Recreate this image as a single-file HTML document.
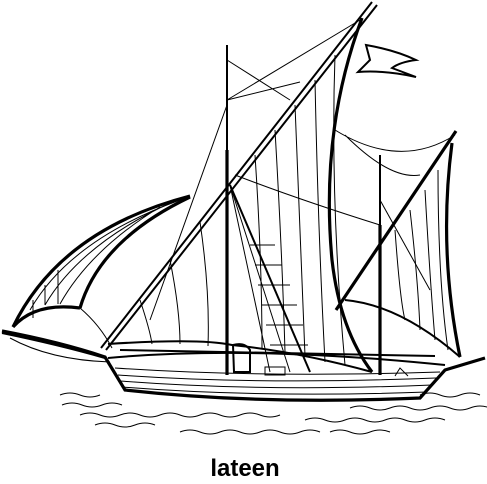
<!DOCTYPE html>
<html><head><meta charset="utf-8">
<style>
html,body{margin:0;padding:0;background:#fff;width:487px;height:484px;overflow:hidden}
svg{display:block}
.t{fill:none;stroke:#000;stroke-width:1}
.m{fill:none;stroke:#000;stroke-width:2}
.k{fill:none;stroke:#000;stroke-width:3.2}
</style></head>
<body>
<svg width="487" height="484" viewBox="0 0 487 484">
<g>
 <path class="k" d="M362,18 Q320,130 332,260 Q340,330 372,372"/>
 <path class="t" d="M140,300 Q150,330 152,344 M170,260 Q180,310 180,344 M200,222 Q210,290 208,346 M255,155 Q262,260 262,349 M275,130 Q282,250 285,352 M295,105 Q300,240 305,356 M315,80 Q318,230 325,362 M335,55 Q330,200 345,365"/>
 <path class="m" d="M108,344 Q200,338 232,345 Q300,352 372,372"/>
</g>
<g>
 <path class="m" d="M101,348 L372,2"/>
 <path class="m" d="M106,350 L377,5"/>
</g>
<g>
 <path class="m" d="M227,45 L227,375"/>
 <path class="k" d="M227,150 L227,375"/>
 <path class="t" d="M227,60 L290,100 M227,100 L360,20 M227,100 L300,82 M235,175 Q300,200 380,225 M227,105 L150,320"/>
</g>
<g>
 <path class="m" d="M230,185 L310,372"/>
 <path class="t" d="M230,185 L270,372 M230,185 L290,372 M250,245 L275,245 M255,265 L282,265 M258,285 L290,285 M262,305 L297,305 M266,325 L303,325 M270,345 L308,345"/>
</g>
<g>
 <path class="k" d="M13,327 Q60,230 190,196"/>
 <path class="k" d="M190,197 Q100,240 80,308"/>
 <path class="k" d="M13,327 Q35,302 80,308"/>
 <path class="t" d="M30,310 Q70,240 180,200 M45,305 Q80,245 170,203 M60,304 Q90,250 160,207 M33,300 L33,318 M45,285 L45,305 M58,270 L58,304"/>
 <path class="t" d="M80,308 Q100,325 112,348"/>
</g>
<g>
 <path class="k" d="M452,143 Q438,250 460,357"/>
 <path class="m" d="M345,300 Q400,305 460,357"/>
 <path class="t" d="M395,230 Q400,300 405,320 M410,210 Q418,280 420,330 M425,190 Q430,280 435,340 M438,170 Q438,280 448,350 M335,130 Q400,170 455,135 M345,135 Q390,180 420,175"/>
</g>
<g>
 <path class="k" d="M336,310 L456,131"/>
</g>
<g>
 <path class="m" d="M380,155 L380,375"/>
 <path class="k" d="M380,225 L380,375"/>
 <path class="t" d="M380,200 L430,290"/>
</g>
<g>
 <path class="m" d="M366,45 L370,60 Q360,70 358,72 Q385,70 416,77 L392,68 Q400,62 416,60 Q395,50 366,45 Z" fill="#fff"/>
</g>
<g>
 <path class="k" d="M2,331 Q60,342 105,357 L125,390 Q260,405 420,398 L445,370 L485,358" fill="#fff"/>
 <path class="m" d="M2,333 Q60,345 105,358"/>
 <path class="m" d="M108,358 Q250,345 445,365 M120,350 L435,356"/>
 <path class="t" d="M115,368 Q260,378 440,372 M118,375 Q260,385 436,378 M120,381 Q260,392 432,385 M122,387 Q260,398 427,392 M10,338 Q50,360 110,362"/>
 <path class="m" d="M233,345 Q245,342 250,350 L250,372 L234,372 Z"/>
 <rect x="265" y="367" width="20" height="8" class="t" fill="#fff"/>
 <path class="t" d="M395,376 L400,368 L408,376"/>
</g>
<g>
 <path class="t" d="M62,405 q10,-4 20,0 t20,0 t20,0 M80,415 q10,-4 20,0 t20,0 t20,0 t20,0 t20,0 t20,0 t20,0 t20,0 t20,0 t20,0 M95,425 q10,-4 20,0 t20,0 t20,0 M180,432 q10,-4 20,0 t20,0 t20,0 t20,0 t20,0 t20,0 t20,0 M305,420 q10,-4 20,0 t20,0 t20,0 t20,0 t20,0 t20,0 t20,0 M350,408 q10,-4 20,0 t20,0 t20,0 t20,0 t20,0 t20,0 t20,0 M60,395 q10,-4 20,0 t20,0 M420,395 q10,-4 20,0 t20,0 t20,0 M330,432 q10,-4 20,0 t20,0 t20,0"/>
</g>
<text x="245" y="476" text-anchor="middle" font-family="Liberation Sans, sans-serif" font-weight="bold" font-size="24">lateen</text>
</svg>
</body></html>
